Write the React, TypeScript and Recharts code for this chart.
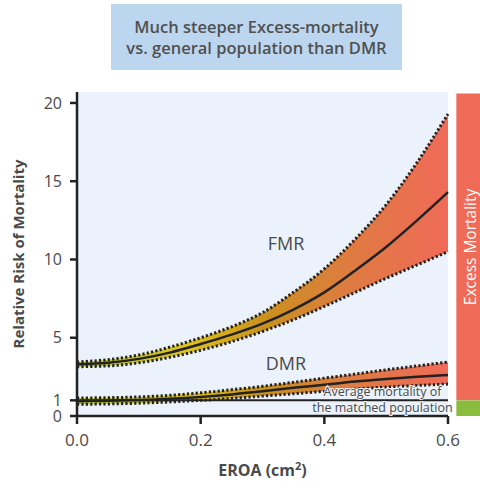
import React from 'react';
import {
  ComposedChart,
  Area,
  Line,
  XAxis,
  YAxis,
  CartesianGrid,
  ReferenceLine,
  ReferenceArea,
  ReferenceDot,
  Label
} from 'recharts';

const eroa = [0, 0.05, 0.1, 0.15, 0.2, 0.25, 0.3, 0.35, 0.4, 0.45, 0.5, 0.55, 0.6];
const fmrMid = [3.3, 3.4, 3.65, 4.05, 4.6, 5.2, 5.9, 6.8, 7.9, 9.3, 10.8, 12.5, 14.3];
const fmrLow = [3.15, 3.2, 3.4, 3.75, 4.2, 4.75, 5.4, 6.15, 7.0, 7.9, 8.8, 9.65, 10.5];
const fmrHigh = [3.45, 3.6, 3.9, 4.4, 5.0, 5.7, 6.6, 7.9, 9.4, 11.3, 13.5, 16.2, 19.3];
const dmrMid = [0.95, 0.97, 1.02, 1.1, 1.22, 1.38, 1.58, 1.8, 2.0, 2.2, 2.36, 2.5, 2.62];
const dmrLow = [0.75, 0.77, 0.82, 0.9, 1.0, 1.12, 1.27, 1.42, 1.58, 1.72, 1.85, 1.95, 2.04];
const dmrHigh = [1.15, 1.17, 1.22, 1.32, 1.48, 1.68, 1.9, 2.15, 2.42, 2.68, 2.95, 3.2, 3.45];

const xTicks = [0, 0.2, 0.4, 0.6];
const yTicks = [0, 1, 5, 10, 15, 20];

const data = eroa.map((x, i) => ({
  x,
  fmrMid: fmrMid[i],
  fmrLow: fmrLow[i],
  fmrHigh: fmrHigh[i],
  fmrBand: [fmrLow[i], fmrHigh[i]],
  dmrMid: dmrMid[i],
  dmrLow: dmrLow[i],
  dmrHigh: dmrHigh[i],
  dmrBand: [dmrLow[i], dmrHigh[i]]
}));

const FONT = '"Open Sans", "Noto Sans", sans-serif';
const INK = '#222';
const TEXT = '#4a4a4a';

const xTitle = (props: any) => {
  const vb = props.viewBox;
  return (
    <text
      x={vb.x + vb.width / 2}
      y={vb.y + 60}
      textAnchor="middle"
      fontFamily={FONT}
      fontSize={16}
      fontWeight="bold"
      fill={TEXT}
    >
      EROA (cm<tspan dy={-6} fontSize={11}>2</tspan><tspan dy={6}>)</tspan>
    </text>
  );
};

const avgLabel = (props: any) => {
  const vb = props.viewBox;
  return (
    <text
      x={vb.x}
      y={vb.y}
      textAnchor="middle"
      fontFamily={FONT}
      fontSize={12.5}
      fill={TEXT}
      stroke="#eef4fb"
      strokeWidth={2}
      paintOrder="stroke"
    >
      <tspan x={vb.x} dy={-4}>Average mortality of</tspan>
      <tspan x={vb.x} dy={16}>the matched population</tspan>
    </text>
  );
};

export default function App() {
  return (
    <div style={{ position: 'absolute', left: 0, top: 0, width: 480, height: 488, background: '#fff' }}>
      <div
        style={{
          position: 'absolute',
          left: 111,
          top: 4,
          width: 291,
          height: 66,
          background: '#bcd6ef',
          color: '#505050',
          fontFamily: FONT,
          fontSize: 16.5,
          fontWeight: 600,
          lineHeight: '21px',
          textAlign: 'center',
          display: 'flex',
          alignItems: 'center',
          justifyContent: 'center'
        }}
      >
        Much steeper Excess-mortality
        <br />
        vs. general population than DMR
      </div>
      <ComposedChart
        width={480}
        height={488}
        data={data}
        margin={{ top: 92, right: 32, bottom: 0, left: 17 }}
      >
        <defs>
          <linearGradient id="bandGrad" x1="0" y1="0" x2="1" y2="0">
            <stop offset="0%" stopColor="#b3cb34" />
            <stop offset="30%" stopColor="#dfc21d" />
            <stop offset="50%" stopColor="#c9921b" />
            <stop offset="72%" stopColor="#dd7c40" />
            <stop offset="100%" stopColor="#f06a58" />
          </linearGradient>
        </defs>
        <CartesianGrid fill="#ebf2fb" stroke="none" vertical={false} horizontal={false} />
        <XAxis
          dataKey="x"
          type="number"
          domain={[0, 0.6]}
          ticks={xTicks}
          interval={0}
          tickFormatter={(v: number) => v.toFixed(1)}
          height={72}
          tickSize={8}
          tickMargin={10}
          axisLine={{ stroke: INK, strokeWidth: 2.5 }}
          tickLine={{ stroke: INK, strokeWidth: 2.5 }}
          tick={{ fill: TEXT, fontSize: 17, fontFamily: FONT }}
        >
          <Label content={xTitle} />
        </XAxis>
        <YAxis
          type="number"
          domain={[0, 20.7]}
          ticks={yTicks}
          interval={0}
          allowDataOverflow
          width={60}
          tickSize={7}
          tickMargin={8}
          axisLine={{ stroke: INK, strokeWidth: 2.5 }}
          tickLine={{ stroke: INK, strokeWidth: 2.5 }}
          tick={{ fill: TEXT, fontSize: 16, fontFamily: FONT }}
        >
          <Label
            value="Relative Risk of Mortality"
            angle={-90}
            position="insideLeft"
            offset={2}
            style={{ textAnchor: 'middle', fontFamily: FONT, fontSize: 15, fontWeight: 'bold', fill: TEXT }}
          />
        </YAxis>

        <ReferenceArea
          x1={0.6135}
          x2={0.66}
          y1={1}
          y2={20.6}
          ifOverflow="visible"
          fill="#f06a58"
          fillOpacity={1}
          stroke="none"
        >
          <Label
            value="Excess Mortality"
            angle={-90}
            position="center"
            style={{ fill: '#fff', fontFamily: FONT, fontSize: 15.5 }}
          />
        </ReferenceArea>
        <ReferenceArea
          x1={0.6135}
          x2={0.66}
          y1={0}
          y2={1}
          ifOverflow="visible"
          fill="#8bbd3d"
          fillOpacity={1}
          stroke="none"
        />

        <ReferenceLine y={1} stroke={INK} strokeWidth={2} />

        <Area
          dataKey="fmrBand"
          type="monotone"
          stroke="none"
          fill="url(#bandGrad)"
          fillOpacity={1}
          isAnimationActive={false}
        />
        <Area
          dataKey="dmrBand"
          type="monotone"
          stroke="none"
          fill="url(#bandGrad)"
          fillOpacity={1}
          isAnimationActive={false}
        />

        {['fmrHigh', 'fmrLow', 'dmrHigh', 'dmrLow'].map((k) => (
          <Line
            key={k}
            dataKey={k}
            type="monotone"
            stroke={INK}
            strokeWidth={3}
            strokeDasharray="2.2 2.2"
            dot={false}
            activeDot={false}
            isAnimationActive={false}
          />
        ))}
        <Line dataKey="fmrMid" type="monotone" stroke={INK} strokeWidth={2.5} dot={false} isAnimationActive={false} />
        <Line dataKey="dmrMid" type="monotone" stroke={INK} strokeWidth={2.5} dot={false} isAnimationActive={false} />

        <ReferenceDot
          x={0.338}
          y={11.0}
          r={0}
          fill="none"
          stroke="none"
          label={{ value: 'FMR', position: 'center', fill: TEXT, fontSize: 18, fontFamily: FONT }}
        />
        <ReferenceDot
          x={0.338}
          y={3.35}
          r={0}
          fill="none"
          stroke="none"
          label={{ value: 'DMR', position: 'center', fill: TEXT, fontSize: 18, fontFamily: FONT }}
        />
        <ReferenceDot x={0.494} y={1.0} r={0} fill="none" stroke="none" ifOverflow="visible" label={avgLabel} />
      </ComposedChart>
    </div>
  );
}
